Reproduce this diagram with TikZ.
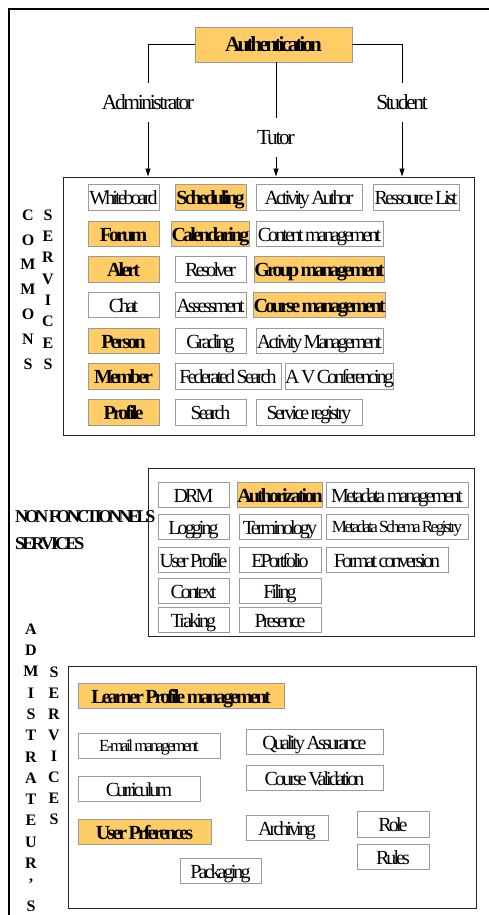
\documentclass[tikz,border=0pt]{standalone}
\usepackage{fontspec}
\setmainfont{Liberation Serif}[LetterSpace=-14.5,WordSpace=0.7]
\newfontfamily\lblfont{Liberation Serif}[LetterSpace=-11]
\newfontfamily\nffont{Liberation Serif}[LetterSpace=-19,WordSpace=0.5]
\newfontfamily\nfbfont{Liberation Serif}[LetterSpace=-16]
\newfontfamily\vfont{Liberation Serif}
\usetikzlibrary{arrows.meta}
\definecolor{orng}{HTML}{FFCC66}
\definecolor{bgray}{HTML}{9A9A9A}
\newcommand\bx[7][box]{\node[#1, minimum width={(#4-#2)*1pt}, minimum height={(#5-#3)*1pt}] (#6) at ({(#2+#4)/2},{(#3+#5)/2}) {#7};}
\begin{document}
\begin{tikzpicture}[x=1pt,y=-1pt,
  box/.style={draw=bgray, line width=0.8pt, inner sep=0pt, text height=15.5pt, text depth=0.5pt, font=\fontsize{20}{22}\selectfont},
  sbox/.style={box, text height=12.5pt, font=\fontsize{17}{19}\selectfont},
  obox/.style={box, fill=orng, font=\fontsize{20}{22}\selectfont\bfseries},
  grp/.style={draw=black!85, line width=1pt, inner sep=0pt},
  lbl/.style={inner sep=0pt, font=\lblfont\fontsize{21.5}{23}\selectfont},
  vl/.style={inner sep=0pt, font=\vfont\fontsize{16}{17}\selectfont\bfseries},
  nfl/.style={inner sep=0pt, anchor=west, font=\nffont\fontsize{18}{20}\selectfont\bfseries},
  conn/.style={line width=0.8pt},
  arr/.style={conn, -{Triangle[length=8pt,width=5pt]}}]
\useasboundingbox (0,0) rectangle (489,915);
\clip (0,0) rectangle (489,915);
\draw[line width=2pt] (9,930) -- (9,9) -- (500,9);
% top
\bx[obox,font=\fontsize{21.5}{23}\selectfont\bfseries]{195}{27}{352}{62}{auth}{Authentication}
\node[lbl, minimum height=39pt] (adm) at (148,102.5) {Administrator};
\node[lbl, minimum height=39pt] (tut) at (276,137.5) {Tutor};
\node[lbl, minimum height=39pt] (stu) at (402,102.5) {Student};
\bx[grp]{63}{177}{474}{435}{cs}{}
\draw[conn] (auth.west) -| (adm.north);
\draw[arr] (adm.south) -- (adm.south |- cs.north);
\draw[conn] (tut.north |- auth.south) -- (tut.north);
\draw[arr] (tut.south) -- (tut.south |- cs.north);
\draw[conn] (auth.east) -| (stu.north);
\draw[arr] (stu.south) -- (stu.south |- cs.north);
% common services
\bx{88}{184}{159}{210}{wb}{Whiteboard}
\bx[obox]{175}{184}{246}{210}{sch}{Scheduling}
\bx{256}{184}{362}{210}{aa}{Activity Author}
\bx{373}{184}{459}{210}{rl}{Ressource List}
\bx[obox]{88}{221}{159}{246}{for}{Forum}
\bx[obox]{175}{221}{246}{246}{cal}{Calendaring}
\bx{256}{221}{383}{246}{cm}{Content management}
\bx[obox]{88}{256}{159}{282}{al}{Alert}
\bx{175}{256}{246}{282}{res}{Resolver}
\bx[obox]{256}{256}{383}{282}{gm}{Group management}
\bx{88}{292}{159}{317}{ch}{Chat}
\bx{175}{292}{246}{317}{as}{Assessment}
\bx[obox]{256}{292}{383}{317}{crm}{Course management}
\bx[obox]{88}{328}{159}{353}{per}{Person}
\bx{175}{328}{246}{353}{gr}{Grading}
\bx{256}{328}{383}{353}{am}{Activity Management}
\bx[obox]{88}{363}{159}{389}{mem}{Member}
\bx{175}{363}{281}{389}{fs}{Federated Search}
\bx{286}{363}{393}{389}{avc}{A V Conferencing}
\bx[obox]{88}{399}{159}{425}{pro}{Profile}
\bx{175}{399}{246}{425}{se}{Search}
\bx{256}{399}{362}{425}{sr}{Service registry}
\foreach \l [count=\i] in {C,O,M,M,O,N,S} \node[vl] (cv\i) at (28,{215+24.8*(\i-1)}) {\l};
\foreach \l [count=\i] in {S,E,R,V,I,C,E,S} \node[vl] (sv\i) at (48,{215+21.3*(\i-1)}) {\l};
% non fonctionnels
\bx[grp]{148}{468}{474}{636}{nf}{}
\node[nfl] (nfa) at (15,517) {NON FONCTIONNELS};
\node[nfl, font=\nfbfont\fontsize{18}{20}\selectfont\bfseries] (nfb) at (15,544) {SERVICES};
\bx{158}{482}{229}{507}{drm}{DRM}
\bx[obox]{239}{482}{321}{507}{auz}{Authorization}
\bx{326}{482}{468}{507}{mm}{Metadata management}
\bx{158}{514}{229}{539}{log}{Logging}
\bx{239}{514}{321}{539}{ter}{Terminology}
\bx[sbox]{326}{514}{468}{539}{msr}{Metadata Schema Registry}
\bx{158}{547}{229}{572}{up}{User Profile}
\bx{239}{547}{321}{572}{ep}{EPortfolio}
\bx{326}{547}{448}{572}{fc}{Format conversion}
\bx{158}{578}{229}{603}{ctx}{Context}
\bx{239}{578}{321}{603}{fil}{Filing}
\bx{158}{607}{229}{632}{trk}{Traking}
\bx{239}{607}{321}{632}{pre}{Presence}
% administrateur
\foreach \l [count=\i] in {A,D,M,I,S,T,R,A,T,E,U,R,’,S} \node[vl] (av\i) at (31,{629+21.3*(\i-1)}) {\l};
\foreach \l [count=\i] in {S,E,R,V,I,C,E,S} \node[vl] (asv\i) at (54,{672+21.1*(\i-1)}) {\l};
\bx[grp]{68}{666}{476}{908}{ad}{}
\bx[obox]{78}{683}{284}{708}{lpm}{Learner Profile management}
\bx[sbox]{78}{733}{220}{758}{em}{E-mail management}
\bx{246}{729}{383}{754}{qa}{Quality Assurance}
\bx{246}{765}{383}{790}{cv}{Course Validation}
\bx{78}{776}{200}{801}{cur}{Curriculum}
\bx[obox]{78}{819}{211}{844}{upf}{User Prferences}
\bx{246}{815}{328}{840}{arc}{Archiving}
\bx{357}{811}{429}{837}{role}{Role}
\bx{357}{844}{429}{869}{rul}{Rules}
\bx{180}{858}{261}{883}{pkg}{Packaging}
\end{tikzpicture}
\end{document}
